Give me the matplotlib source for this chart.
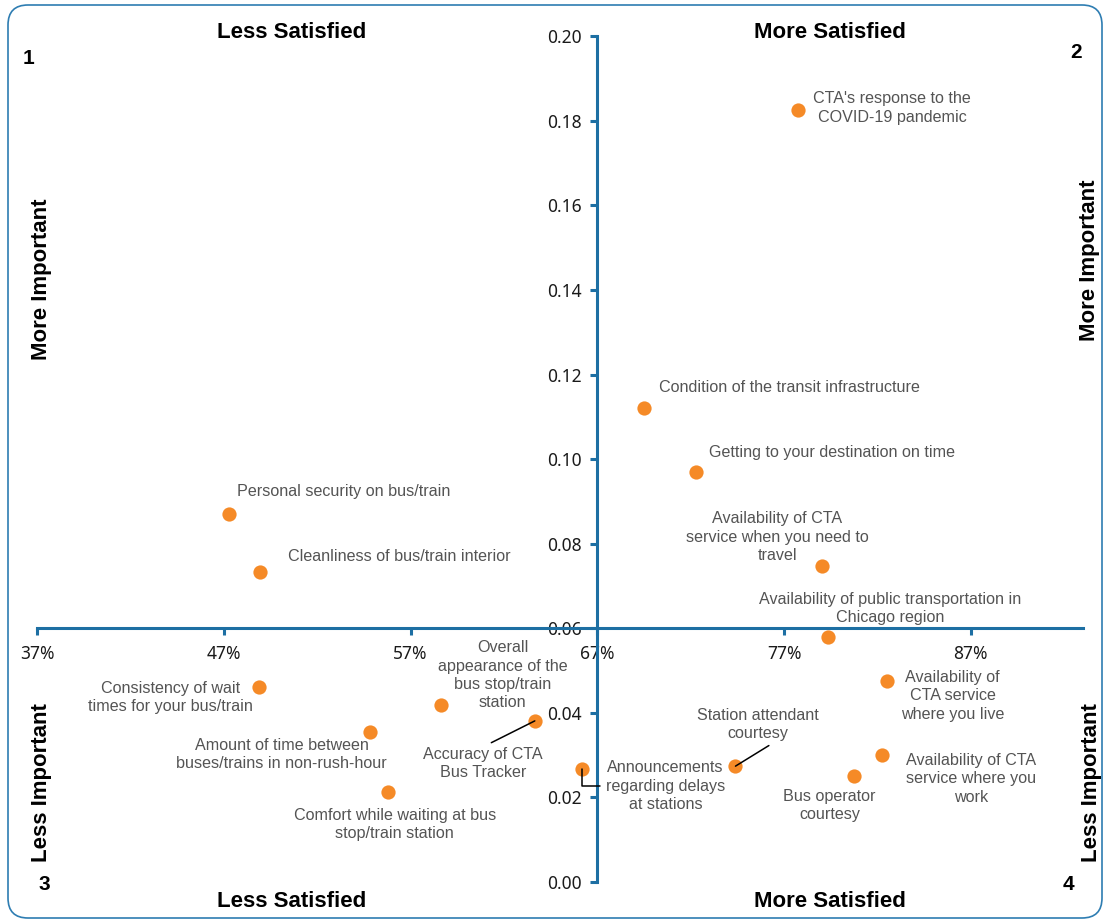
import matplotlib
matplotlib.use('Agg')
import matplotlib.pyplot as plt
from matplotlib.patches import FancyBboxPatch
from matplotlib.transforms import IdentityTransform
from matplotlib.ticker import FuncFormatter


# satisfaction (%), importance (derived)
attributes = [
    "CTA's response to the\nCOVID-19 pandemic",
    "Condition of the transit infrastructure",
    "Getting to your destination on time",
    "Availability of CTA\nservice when you need to\ntravel",
    "Availability of public transportation in\nChicago region",
    "Availability of\nCTA service\nwhere you live",
    "Availability of CTA\nservice where you\nwork",
    "Bus operator\ncourtesy",
    "Station attendant\ncourtesy",
    "Announcements\nregarding delays\nat stations",
    "Accuracy of CTA\nBus Tracker",
    "Overall\nappearance of the\nbus stop/train\nstation",
    "Amount of time between\nbuses/trains in non-rush-hour",
    "Comfort while waiting at bus\nstop/train station",
    "Consistency of wait\ntimes for your bus/train",
    "Personal security on bus/train",
    "Cleanliness of bus/train interior",
]
satisfaction = [77.75, 69.5, 72.3, 79.05, 79.35, 82.5, 82.25, 80.75, 74.4, 66.2,
                63.65, 58.6, 54.8, 55.8, 48.9, 47.25, 48.95]
importance = [0.1826, 0.1121, 0.0970, 0.0747, 0.0579, 0.0475, 0.0300, 0.0251, 0.0274,
              0.0267, 0.0381, 0.0419, 0.0355, 0.0213, 0.0461, 0.0870, 0.0733]

x_ticks = [37, 47, 57, 67, 77, 87]
y_ticks = [0.00, 0.02, 0.04, 0.06, 0.08, 0.10, 0.12, 0.14, 0.16, 0.18, 0.20]
x_cross = 67
y_cross = 0.06

# label offsets in pixels (dx, dy) and leader line anchor on the text box
label_layout = [
    (94, 2, None),
    (145, 20, None),
    (136, 19, None),
    (-45, 29, None),
    (62, 28.5, None),
    (66, -14.5, None),
    (89, -23.5, None),
    (-24.5, -29.5, None),
    (22, 41.5, (0.65, 0.0)),
    (83, -17, (0.0, 0.5)),
    (-51.5, -42.5, (0.5, 1.0)),
    (62, 29.5, None),
    (-88, -22.5, None),
    (6.5, -32.5, None),
    (-89, -10.5, None),
    (115.5, 23, None),
    (138.5, 16, None),
]

AXIS_COLOR = "#1D6FA3"
DOT_COLOR = "#F58A27"
LABEL_COLOR = "#545454"
W, H = 1103, 921

fig = plt.figure(figsize=(W / 100, H / 100), dpi=100)
ax = fig.add_axes([37.3 / W, 39 / H, 1045.4 / W, 845.7 / H])
ax.patch.set_visible(False)
ax.set_xlim(37, 93)
ax.set_ylim(0, 0.20)

ax.spines["top"].set_visible(False)
ax.spines["right"].set_visible(False)
ax.spines["left"].set_position(("data", x_cross))
ax.spines["bottom"].set_position(("data", y_cross))
for s in ["left", "bottom"]:
    ax.spines[s].set_color(AXIS_COLOR)
    ax.spines[s].set_linewidth(2.2)

ax.set_xticks(x_ticks)
ax.set_yticks(y_ticks)
ax.xaxis.set_major_formatter(FuncFormatter(lambda v, p: f"{v:.0f}%"))
ax.yaxis.set_major_formatter(FuncFormatter(lambda v, p: f"{v:.2f}"))
ax.tick_params(direction="out", length=5, width=2.2, color=AXIS_COLOR,
               labelsize=12.5, labelcolor="#1a1a1a")
ax.tick_params(axis="x", pad=7)
ax.tick_params(axis="y", pad=6)
for lab in ax.get_xticklabels() + ax.get_yticklabels():
    lab.set_fontfamily("Noto Sans")

ax.scatter(satisfaction, importance, s=105, color=DOT_COLOR, zorder=3, linewidths=0)

for name, x, y, (dx, dy, rel) in zip(attributes, satisfaction, importance, label_layout):
    arrow = None
    if rel is not None:
        if rel == (0.0, 0.5):
            conn = "angle,angleA=0,angleB=90,rad=0"
        else:
            conn = "arc3"
        arrow = dict(arrowstyle="-", color="black", lw=1.1, relpos=rel,
                     connectionstyle=conn, shrinkA=2, shrinkB=0)
    ax.annotate(name, (x, y), xytext=(dx, dy), textcoords="offset pixels",
                ha="center", va="center", multialignment="center",
                fontsize=11.6, color=LABEL_COLOR, family="Liberation Sans",
                linespacing=1.28, arrowprops=arrow, zorder=4)

# quadrant captions
def fig_text(px, py, s, **kw):
    fig.text(px / W, 1 - py / H, s, ha="center", va="center",
             family="Liberation Sans", fontweight="bold", color="black", **kw)

fig_text(292, 33, "Less Satisfied", fontsize=16)
fig_text(830, 33, "More Satisfied", fontsize=16)
fig_text(292, 901, "Less Satisfied", fontsize=16)
fig_text(830, 901, "More Satisfied", fontsize=16)
fig_text(41, 279, "More Important", fontsize=16, rotation=90)
fig_text(1089, 260, "More Important", fontsize=16, rotation=90)
fig_text(41, 783, "Less Important", fontsize=16, rotation=90)
fig_text(1091, 783, "Less Important", fontsize=16, rotation=90)
fig_text(28, 58, "1", fontsize=15)
fig_text(1076, 52, "2", fontsize=15)
fig_text(44, 884, "3", fontsize=15)
fig_text(1068, 884, "4", fontsize=15)

frame = FancyBboxPatch((8, 3), 1094, 913, boxstyle="round,pad=0,rounding_size=20",
                       transform=IdentityTransform(), fill=False,
                       edgecolor="#2E7DB2", linewidth=1.2)
fig.patches.append(frame)

fig.savefig("out.png", dpi=100)
